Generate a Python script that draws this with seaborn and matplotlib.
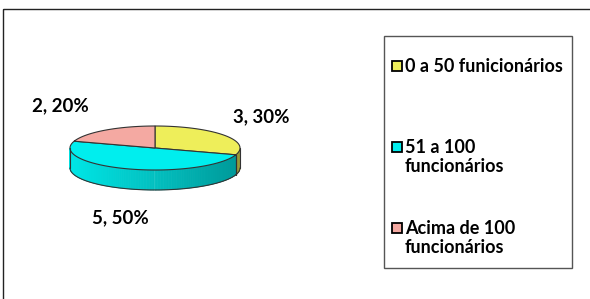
import numpy as np
import seaborn as sns
import matplotlib.pyplot as plt
from matplotlib.patches import Polygon, Rectangle

categories = ["0 a 50 funicionários", "51 a 100\nfuncionários", "Acima de 100\nfuncionários"]
counts = [3, 5, 2]
percents = [30, 50, 20]
colors = ["#eeee5a", "#00eeee", "#f4a9a2"]

sns.set_theme(style="white")
plt.rcParams['font.family'] = ['Lato', 'DejaVu Sans']
plt.rcParams['font.weight'] = 'bold'

fig = plt.figure(figsize=(5.9, 2.99), dpi=100)
ax = fig.add_axes([0, 0, 1, 1])
ax.set_xlim(0, 590)
ax.set_ylim(299, 0)
ax.axis('off')

# outer chart frame
ax.add_patch(Rectangle((2.5, 8.5), 600, 300, fill=False, edgecolor='#222222', lw=1.0))

# pie geometry (pixel units)
cx, cy, rx, ry, depth = 155, 148, 85, 22, 20


def pt(theta, dy=0):
    t = np.radians(theta)
    return cx + rx * np.cos(t), cy - ry * np.sin(t) + dy


def shade(col, f):
    rgb = np.array(plt.matplotlib.colors.to_rgb(col))
    return tuple(np.clip(rgb * f, 0, 1))


total = sum(counts)
angles = []
start = 90.0
for c in counts:
    sweep = 360.0 * c / total
    angles.append((start - sweep, start))
    start -= sweep

# side wall (front half only)
for (a0, a1), col in zip(angles, colors):
    for k in range(-2, 2):
        lo = max(a0, -180 + 360 * k)
        hi = min(a1, 0 + 360 * k)
        if hi <= lo:
            continue
        th = np.linspace(lo, hi, int((hi - lo) * 2) + 2)
        for t1, t2 in zip(th[:-1], th[1:]):
            f = 0.97 - 0.33 * (1 + np.cos(np.radians((t1 + t2) / 2))) / 2
            quad = [pt(t1), pt(t2), pt(t2, depth), pt(t1, depth)]
            ax.add_patch(Polygon(quad, closed=True, facecolor=shade(col, f),
                                 edgecolor=shade(col, f), lw=0.4))
        arc = np.array([pt(t, depth) for t in th])
        ax.plot(arc[:, 0], arc[:, 1], color='#333333', lw=0.8)
        for t in (lo, hi):
            x0, y0 = pt(t)
            ax.plot([x0, x0], [y0, y0 + depth], color='#333333', lw=0.8)

# top face
for (a0, a1), col in zip(angles, colors):
    th = np.linspace(a1, a0, 120)
    verts = [(cx, cy)] + [pt(t) for t in th]
    ax.add_patch(Polygon(verts, closed=True, facecolor=col, edgecolor='#333333', lw=0.8))

# data labels
label_dx = [0, 6, -17]
for (a0, a1), c, p, dx in zip(angles, counts, percents, label_dx):
    mid = np.radians((a0 + a1) / 2)
    lx = cx + rx * 1.55 * np.cos(mid) + dx
    ly = cy - ry * 2.4 * np.sin(mid)
    if np.sin(mid) < 0:
        ly += depth
    ax.text(lx, ly, f"{c}, {p}%", ha='center', va='center', fontsize=13.5,
            fontweight='bold', color='black')

# legend box
ax.add_patch(Rectangle((383.5, 35.5), 188, 232, fill=False, edgecolor='#555555', lw=1.0))
for i, (cat, col) in enumerate(zip(categories, colors)):
    top = 58 + 81 * i
    ax.add_patch(Rectangle((391.5, top + 3), 10, 10, facecolor=col, edgecolor='black', lw=1.3))
    ax.text(405, top, cat, ha='left', va='top', fontsize=13, fontweight='bold',
            linespacing=1.15, color='black')

fig.savefig("out.png", dpi=100)
